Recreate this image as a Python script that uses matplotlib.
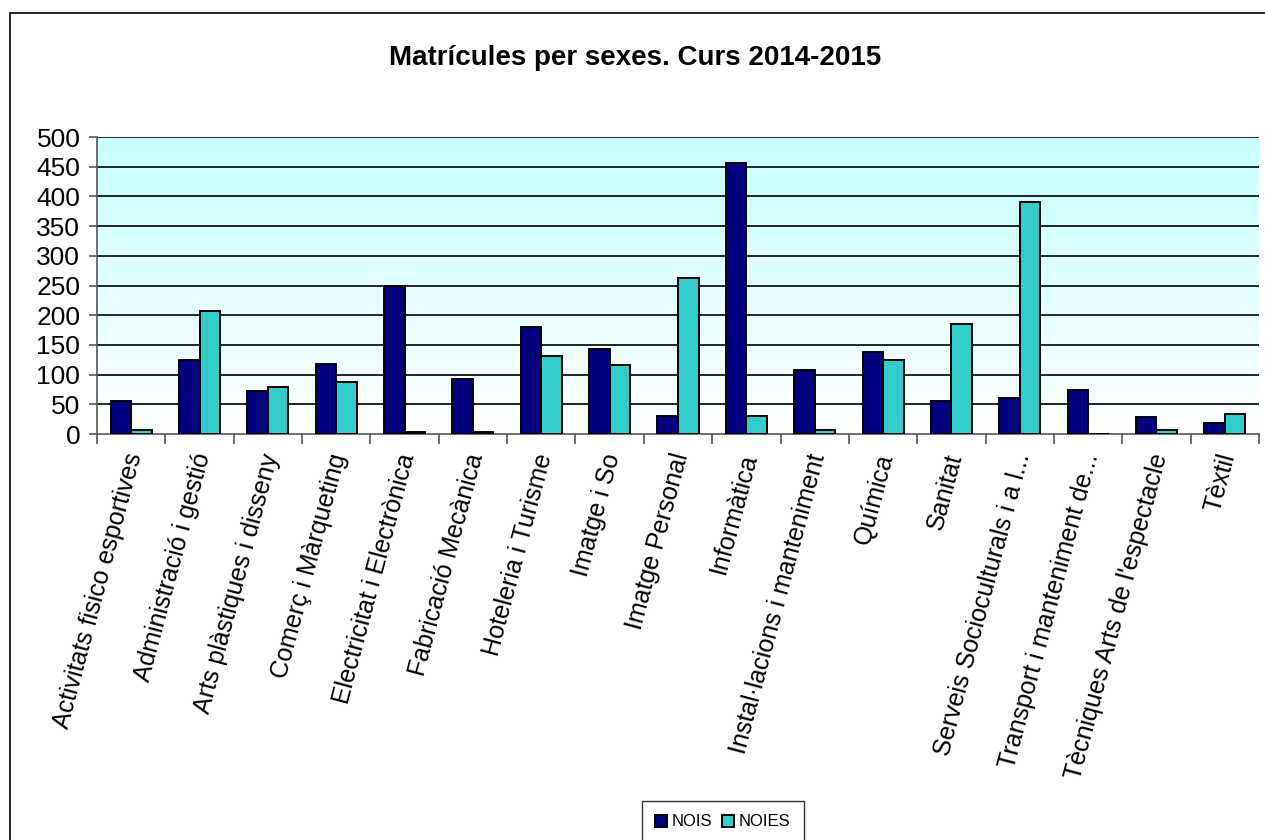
import numpy as np
import matplotlib
matplotlib.use("Agg")
import matplotlib.pyplot as plt
import matplotlib.transforms as mtransforms
from matplotlib.patches import Rectangle
from matplotlib.colors import LinearSegmentedColormap

categories = ["Activitats fisico esportives", "Administració i gestió", "Arts plàstiques i disseny",
              "Comerç i Màrqueting", "Electricitat i Electrònica", "Fabricació Mecànica",
              "Hoteleria i Turisme", "Imatge i So", "Imatge Personal", "Informàtica",
              "Instal·lacions i manteniment", "Química", "Sanitat", "Serveis Socioculturals i a l...",
              "Transport i manteniment de...", "Tècniques Arts de l'espectacle", "Tèxtil"]
nois = [55, 125, 73, 118, 250, 92, 180, 143, 31, 457, 107, 138, 55, 61, 74, 28, 19]
noies = [6, 207, 79, 88, 3, 3, 131, 116, 262, 31, 6, 125, 186, 390, 0, 6, 34]
series_names = ["NOIS", "NOIES"]
title = "Matrícules per sexes. Curs 2014-2015"

plt.rcParams['font.family'] = ['Liberation Sans', 'DejaVu Sans']

fig = plt.figure(figsize=(12.65, 8.4), dpi=100)
W, H = 1265, 840
# outer border (cropped at right/bottom)
fig.patches.append(Rectangle((10 / W, -0.1), 1.2, 1 - 13 / H + 0.1, transform=fig.transFigure,
                             fill=False, edgecolor='black', linewidth=1.2))

ax = fig.add_axes([97 / W, 1 - 434 / H, 1162 / W, 297 / H])
n = len(categories)
x = np.arange(n)
ax.set_xlim(-0.5, n - 0.5)
ax.set_ylim(0, 500)

# gradient background
grad = np.linspace(0, 1, 256).reshape(-1, 1)
cmap = LinearSegmentedColormap.from_list("bg", ["#ffffff", "#c6ffff"])
ax.imshow(grad, extent=(-0.5, n - 0.5, 0, 500), origin='lower', aspect='auto', cmap=cmap, zorder=0)

for yv in range(50, 501, 50):
    ax.axhline(yv, color='black', linewidth=1.2, zorder=1)

bw = 0.3
ax.bar(x - bw / 2, nois, width=bw, color='#000080', edgecolor='black', linewidth=1.4,
       label=series_names[0], zorder=3)
ax.bar(x + bw / 2, noies, width=bw, color='#33CCCC', edgecolor='black', linewidth=1.4,
       label=series_names[1], zorder=3)

for s in ['top', 'right']:
    ax.spines[s].set_visible(False)
ax.spines['left'].set_color('#555555')
ax.spines['bottom'].set_color('#555555')
ax.spines['left'].set_linewidth(1.2)
ax.spines['bottom'].set_linewidth(1.2)

ax.set_yticks(range(0, 501, 50))
ax.tick_params(axis='y', labelsize=19, length=6, width=1.2, color='#555555', pad=6)
ax.set_xticks(x)
ax.set_xticklabels(categories, rotation=75, ha='right', va='top', rotation_mode='anchor', fontsize=18)
ax.tick_params(axis='x', which='major', length=0, pad=12)
ax.set_xticks(np.arange(-0.5, n, 1), minor=True)
ax.tick_params(axis='x', which='minor', length=7, width=1.2, color='#555555')
offset = mtransforms.ScaledTranslation(-8 / 100, 0, fig.dpi_scale_trans)
for lab in ax.get_xticklabels():
    lab.set_transform(lab.get_transform() + offset)

fig.text(0.502, 1 - 58 / H, title, ha='center', va='center', fontsize=20, fontweight='bold')

leg = fig.legend(loc='center', bbox_to_anchor=(723 / W, 1 - 822 / H), ncol=2, fontsize=12,
                 frameon=True, fancybox=False, edgecolor='black', handlelength=0.7,
                 handleheight=0.7, handletextpad=0.3, columnspacing=0.6, borderpad=0.8)
leg.get_frame().set_linewidth(1.0)

fig.savefig("out.png", dpi=100)
